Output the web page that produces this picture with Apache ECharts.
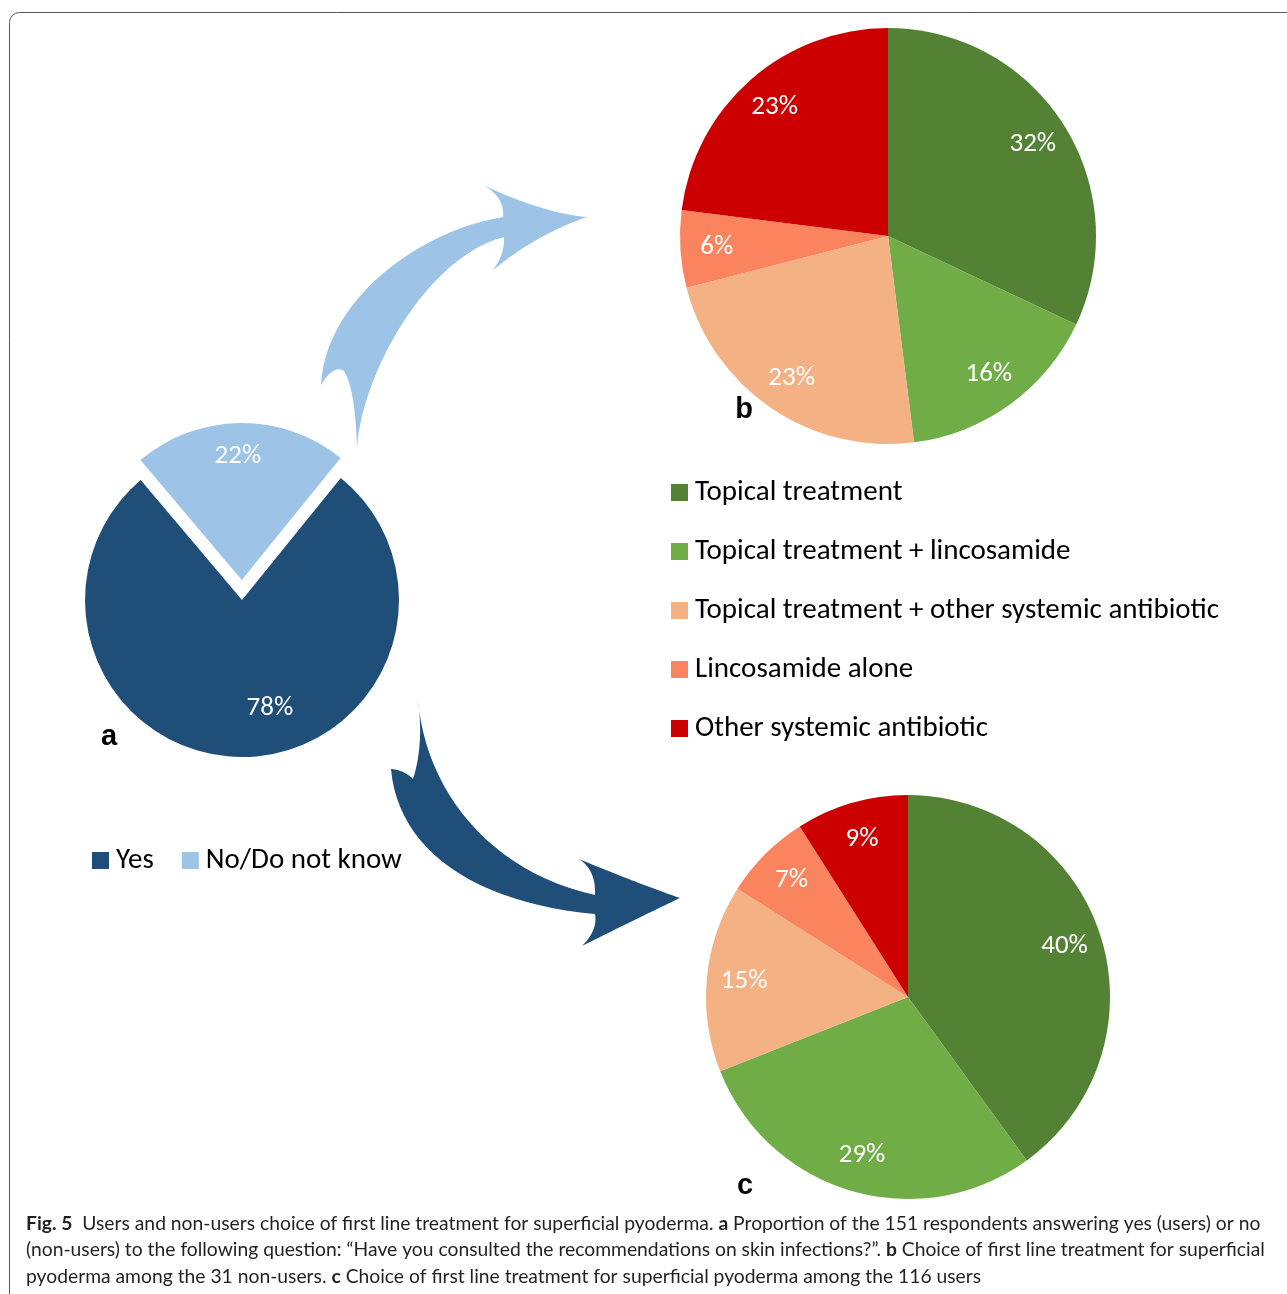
<!DOCTYPE html>
<html>
<head>
<meta charset="utf-8">
<title>Fig. 5</title>
<script src="https://cdn.jsdelivr.net/npm/echarts@6/dist/echarts.min.js"></script>
<style>
  html, body { margin: 0; padding: 0; background: #fff; }
  #chart { width: 1287px; height: 1294px; }
</style>
</head>
<body>
<div id="chart"></div>
<script>
// panel a: consulted the recommendations?
const answerNames = ['Yes', 'No/Do not know']
const answerValues = [78, 22]
const answerColors = ['#1F4E79', '#9DC3E6']

// panels b (non-users) and c (users) share the categories
const treatmentNames = [
  'Topical treatment',
  'Topical treatment + lincosamide',
  'Topical treatment + other systemic antibiotic',
  'Lincosamide alone',
  'Other systemic antibiotic'
]
const nonUserValues = [32, 16, 23, 6, 23]
const userValues = [40, 29, 15, 7, 9]
const treatmentColors = ['#548235', '#70AD47', '#F4B183', '#F9845E', '#CC0000']

const labelFont = 'Carlito, Calibri, Lato, sans-serif'

// angle (radians) of a slice's bisector, echarts convention
function midAngle (values, i, startAngle) {
  let total = values.reduce((a, b) => a + b, 0)
  let before = 0
  for (let k = 0; k < i; k++) before += values[k]
  return (startAngle - (before + values[i] / 2) / total * 360) * Math.PI / 180
}

// move 'inside' labels (at half radius) further out along the bisector, like excel does
function pushOut (values, startAngle, radius, f) {
  return function (params) {
    let a = midAngle(values, params.dataIndex, startAngle)
    let s = (f - 0.5) * radius
    return { dx: s * Math.cos(a), dy: -s * Math.sin(a) }
  }
}

// sample a path made of bezier segments into polygon points
function outline (start, segs) {
  let pts = [start]
  let p0 = start
  segs.forEach(function (s) {
    let n = 24
    for (let i = 1; i <= n; i++) {
      let t = i / n
      let u = 1 - t
      if (s.length === 3) {
        let [c1, c2, p3] = s
        pts.push([
          u * u * u * p0[0] + 3 * u * u * t * c1[0] + 3 * u * t * t * c2[0] + t * t * t * p3[0],
          u * u * u * p0[1] + 3 * u * u * t * c1[1] + 3 * u * t * t * c2[1] + t * t * t * p3[1]
        ])
      } else {
        let [c, p2] = s
        pts.push([
          u * u * p0[0] + 2 * u * t * c[0] + t * t * p2[0],
          u * u * p0[1] + 2 * u * t * c[1] + t * t * p2[1]
        ])
      }
    }
    p0 = s[s.length - 1]
  })
  return pts
}

const upArrow = outline([357, 448], [
  [[362, 370], [430, 255], [504, 237]],
  [[505, 255], [492, 271]],
  [[535, 235], [587, 217]],
  [[543, 213], [483, 185]],
  [[505, 197], [503, 217]],
  [[420, 230], [325, 300], [321, 385]],
  [[332, 366], [343, 370]],
  [[355, 385], [357, 448]]
])

const downArrow = outline([418, 699], [
  [[425, 790], [490, 872], [595, 895]],
  [[596, 870], [579, 859]],
  [[634, 882], [680, 898]],
  [[634, 920], [582, 946]],
  [[598, 930], [595, 914]],
  [[475, 903], [398, 850], [391, 769]],
  [[404, 770], [413, 779]],
  [[424, 745], [418, 699]]
])

const chart = echarts.init(document.getElementById('chart'))

const pieLabel = {
  show: true,
  position: 'inside',
  color: '#fff',
  fontFamily: labelFont,
  fontSize: 27,
  formatter: p => p.value + '%'
}

const legendText = { fontFamily: labelFont, fontSize: 29, lineHeight: 26, color: '#000', padding: [0, 0, 0, 2] }

const answerNudge = [[27, 27], [-3, -42]]

let option = {
  backgroundColor: '#fff',
  animation: false,
  legend: [
    {
      orient: 'horizontal',
      left: 92,
      top: 846,
      padding: 0,
      itemWidth: 17,
      itemHeight: 17,
      itemGap: 28,
      icon: 'rect',
      selectedMode: false,
      data: answerNames,
      textStyle: legendText
    },
    {
      orient: 'vertical',
      left: 671,
      top: 478,
      padding: 0,
      itemWidth: 17,
      itemHeight: 17,
      itemGap: 30,
      icon: 'rect',
      selectedMode: false,
      data: treatmentNames,
      textStyle: legendText
    }
  ],
  series: [
    {
      name: 'a',
      type: 'pie',
      center: [242, 600],
      radius: 157,
      startAngle: 51,
      clockwise: true,
      selectedMode: 'single',
      selectedOffset: 20,
      avoidLabelOverlap: false,
      emphasis: { disabled: true },
      label: pieLabel,
      labelLine: { show: false },
      labelLayout: p => ({ dx: answerNudge[p.dataIndex][0], dy: answerNudge[p.dataIndex][1] }),
      data: answerNames.map((n, i) => ({
        name: n,
        value: answerValues[i],
        selected: i === 1,
        itemStyle: { color: answerColors[i] },
        select: { itemStyle: { color: answerColors[i] } }
      }))
    },
    {
      name: 'b',
      type: 'pie',
      center: [888, 236],
      radius: 208,
      startAngle: 90,
      clockwise: true,
      avoidLabelOverlap: false,
      emphasis: { disabled: true },
      label: pieLabel,
      labelLine: { show: false },
      labelLayout: pushOut(nonUserValues, 90, 208, 0.81),
      data: treatmentNames.map((n, i) => ({ name: n, value: nonUserValues[i], itemStyle: { color: treatmentColors[i] } }))
    },
    {
      name: 'c',
      type: 'pie',
      center: [908, 997],
      radius: 202,
      startAngle: 90,
      clockwise: true,
      avoidLabelOverlap: false,
      emphasis: { disabled: true },
      label: pieLabel,
      labelLine: { show: false },
      labelLayout: pushOut(userValues, 90, 202, 0.8),
      data: treatmentNames.map((n, i) => ({ name: n, value: userValues[i], itemStyle: { color: treatmentColors[i] } }))
    }
  ],
  graphic: [
    {
      type: 'rect',
      silent: true,
      shape: { x: 9.5, y: 12.5, width: 1300, height: 1300, r: 10 },
      style: { fill: 'none', stroke: '#555', lineWidth: 1 }
    },
    { type: 'polygon', silent: true, shape: { points: upArrow }, style: { fill: '#9DC3E6' } },
    { type: 'polygon', silent: true, shape: { points: downArrow }, style: { fill: '#1F4E79' } },
    {
      type: 'text', x: 109, y: 737, silent: true,
      style: { text: 'a', font: 'bold 29px "Liberation Sans", Arial, sans-serif', fill: '#000', align: 'center', verticalAlign: 'middle' }
    },
    {
      type: 'text', x: 744, y: 410, silent: true,
      style: { text: 'b', font: 'bold 29px "Liberation Sans", Arial, sans-serif', fill: '#000', align: 'center', verticalAlign: 'middle' }
    },
    {
      type: 'text', x: 745, y: 1186, silent: true,
      style: { text: 'c', font: 'bold 29px "Liberation Sans", Arial, sans-serif', fill: '#000', align: 'center', verticalAlign: 'middle' }
    },
    {
      type: 'text', x: 26, y: 1210.5, silent: true,
      style: {
        text: '{b|Fig. 5}  Users and non-users choice of first line treatment for superficial pyoderma. {b|a} Proportion of the 151 respondents answering yes (users) or no\n' +
          '(non-users) to the following question: \u201cHave you consulted the recommendations on skin infections?\u201d. {b|b} Choice of first line treatment for superficial\n' +
          'pyoderma among the 31 non-users. {b|c} Choice of first line treatment for superficial pyoderma among the 116 users',
        font: '19.3px Lato, sans-serif',
        fill: '#231F20',
        lineHeight: 26.5,
        rich: {
          b: { font: 'bold 19.3px Lato, sans-serif', fill: '#231F20', lineHeight: 26.5 }
        }
      }
    }
  ]
}

chart.setOption(option)
</script>
</body>
</html>
